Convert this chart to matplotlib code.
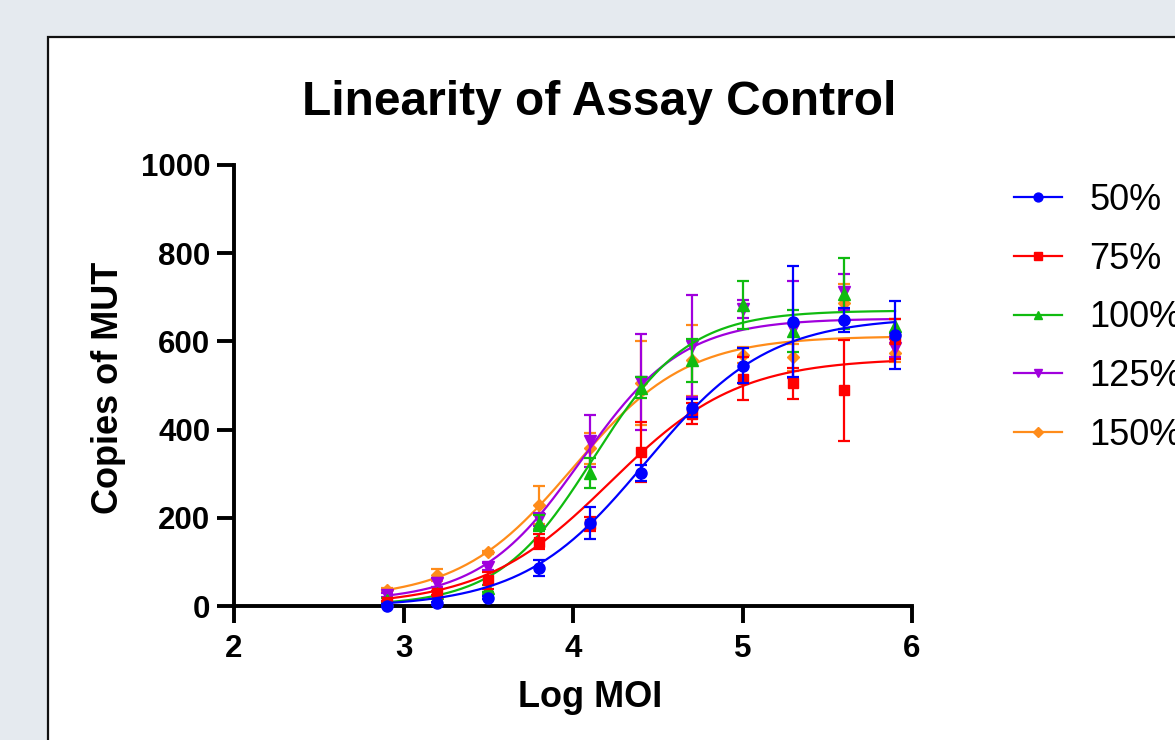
import numpy as np
import matplotlib
matplotlib.use("Agg")
import matplotlib.pyplot as plt
from matplotlib.patches import Rectangle
from matplotlib.lines import Line2D

plt.rcParams['font.family'] = ['Liberation Sans', 'DejaVu Sans']

# ---- data ----
log_moi = [2.9, 3.2, 3.5, 3.8, 4.1, 4.4, 4.7, 5.0, 5.3, 5.6, 5.9]
series_labels = ["50%", "75%", "100%", "125%", "150%"]

mean_50 = [1, 6, 19, 86, 189, 301, 449, 545, 645, 648, 614]
sd_50 = [3, 3, 4, 18, 36, 18, 20, 40, 125, 27, 77]
mean_75 = [8, 29, 58, 146, 186, 349, 436, 515, 505, 489, 605]
sd_75 = [4, 5, 20, 17, 15, 68, 24, 49, 35, 114, 45]
mean_100 = [14, 30, 40, 188, 302, 495, 557, 682, 623, 708, 635]
sd_100 = [4, 5, 8, 18, 34, 24, 49, 55, 48, 80, 15]
mean_125 = [25, 53, 89, 197, 374, 507, 590, 674, 627, 712, 585]
sd_125 = [5, 10, 8, 15, 58, 109, 115, 20, 110, 40, 20]
mean_150 = [36, 70, 122, 229, 358, 505, 557, 570, 564, 688, 574]
sd_150 = [5, 13, 3, 42, 35, 95, 80, 18, 30, 42, 20]

# four-parameter logistic fit parameters: bottom, top, logEC50, hill slope
fit_50 = (-3, 655, 4.43, 1.2)
fit_75 = (0, 562, 4.22, 1.15)
fit_100 = (0, 670, 4.12, 1.55)
fit_125 = (10, 652, 4.05, 1.45)
fit_150 = (15, 612, 4.0, 1.3)

x_ticks = [2, 3, 4, 5, 6]
y_ticks = [0, 200, 400, 600, 800, 1000]

means = [mean_50, mean_75, mean_100, mean_125, mean_150]
sds = [sd_50, sd_75, sd_100, sd_125, sd_150]
fits = [fit_50, fit_75, fit_100, fit_125, fit_150]
colors = ['#0000FF', '#FF0000', '#10BB10', '#A000DD', '#FF8C1A']
markers = ['o', 's', '^', 'v', 'D']
msizes = [8, 7.5, 8, 8, 6]

W, H = 1175, 740
fig = plt.figure(figsize=(W / 100, H / 100), dpi=100)
fig.patch.set_facecolor('#e5eaef')

# white panel with black border
panel = Rectangle((48 / W, -0.1), 1.2, 1.1 - 37 / H,
                  transform=fig.transFigure, facecolor='white',
                  edgecolor='#111111', linewidth=1.6, zorder=-5)
fig.patches.append(panel)

ax = fig.add_axes([234 / W, (H - 606) / H, 678 / W, 441 / H])
ax.set_zorder(2)
ax.set_facecolor('none')

xs = np.linspace(log_moi[0], log_moi[-1], 300)
order = list(range(5))[::-1]
for k, i in enumerate(order):
    b, t, ec, h = fits[i]
    curve = b + (t - b) / (1 + 10 ** ((ec - xs) * h))
    ax.plot(xs, curve, color=colors[i], lw=1.6, zorder=2 + k)
    ax.errorbar(log_moi, means[i], yerr=sds[i], fmt=markers[i], color=colors[i],
                ms=msizes[i], elinewidth=1.6, capsize=4.5, capthick=1.6,
                zorder=2 + k, clip_on=False)

ax.set_xlim(2, 6)
ax.set_ylim(0, 1000)
ax.set_xticks(x_ticks)
ax.set_yticks(y_ticks)
for s in ['top', 'right']:
    ax.spines[s].set_visible(False)
for s in ['left', 'bottom']:
    ax.spines[s].set_linewidth(2.8)
ax.tick_params(axis='both', width=2.8, length=12, labelsize=22.5)
ax.tick_params(axis='x', pad=8)
ax.tick_params(axis='y', pad=5)
for lbl in ax.get_xticklabels() + ax.get_yticklabels():
    lbl.set_fontweight('bold')

ax.set_xlabel('Log MOI', fontsize=26, fontweight='bold')
ax.xaxis.set_label_coords((590 - 234) / 678, (606 - 680) / 441)
ax.set_ylabel('Copies of MUT', fontsize=26, fontweight='bold')
ax.yaxis.set_label_coords((126 - 234) / 678, 0.495)
ax.set_title('Linearity of Assay Control', fontsize=34.5, fontweight='bold',
             x=(599.5 - 234) / 678, y=(606 - 115) / 441, pad=0, va='baseline')

handles = [Line2D([0], [0], color=colors[i], lw=1.6, marker=markers[i],
                  ms=msizes[i] * 0.8) for i in range(5)]
fig.legend(handles, series_labels, loc='upper left',
           bbox_to_anchor=(1014 / W, 1 - 183 / H), frameon=False,
           fontsize=26, handlelength=1.33, handletextpad=0.75,
           labelspacing=0.655, borderpad=0, borderaxespad=0)

fig.savefig('out.png', dpi=100, facecolor=fig.get_facecolor())
